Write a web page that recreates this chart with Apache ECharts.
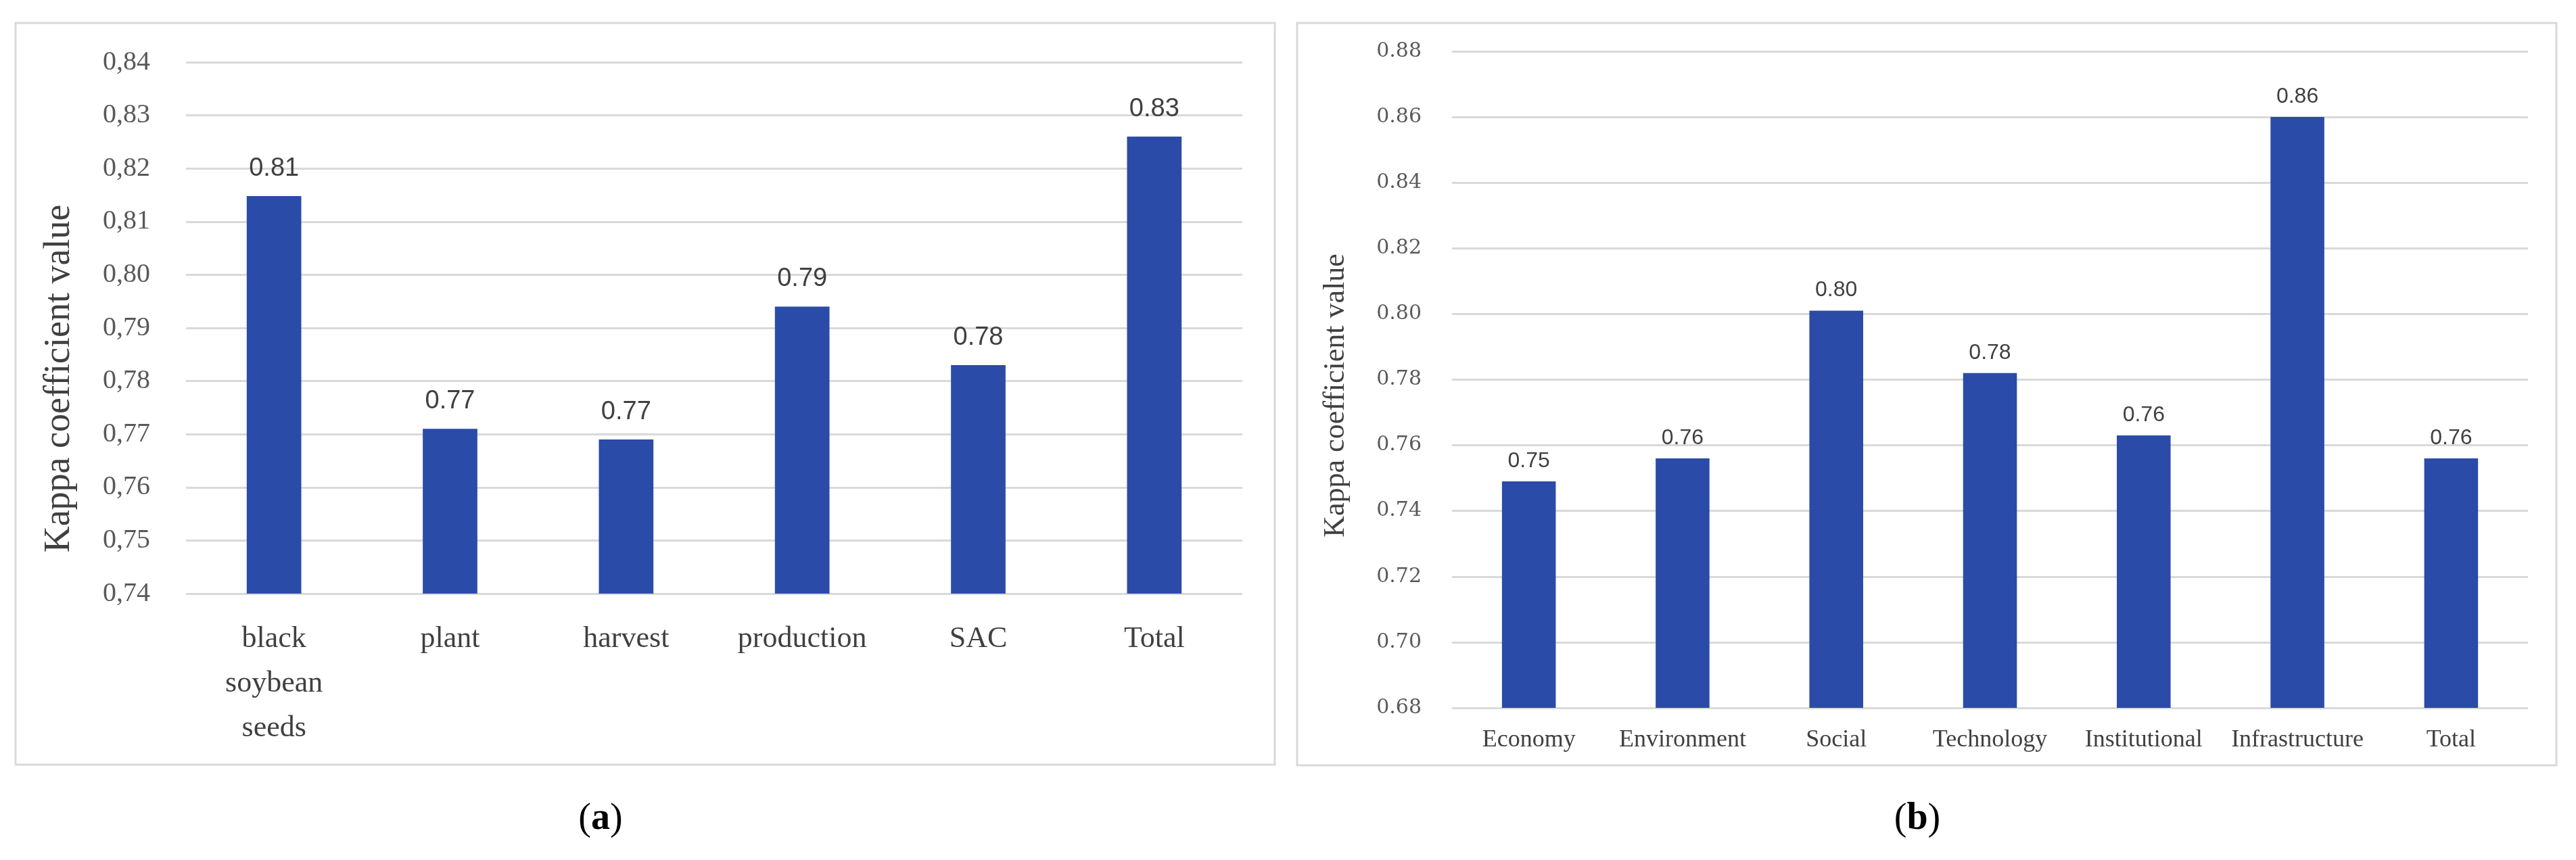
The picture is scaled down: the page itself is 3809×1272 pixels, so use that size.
<!DOCTYPE html>
<html>
<head>
<meta charset="utf-8">
<script src="https://cdn.jsdelivr.net/npm/echarts@6/dist/echarts.min.js"></script>
<style>
html,body{margin:0;padding:0;background:#fff;}
#c{width:3809px;height:1272px;}
</style>
</head>
<body>
<div id="c"></div>
<script>
// ---- data ----
const categoriesA = ['black\nsoybean\nseeds', 'plant', 'harvest', 'production', 'SAC', 'Total'];
const valuesA = [0.8148, 0.771, 0.769, 0.794, 0.783, 0.826];
const categoriesB = ['Economy', 'Environment', 'Social', 'Technology', 'Institutional', 'Infrastructure', 'Total'];
const valuesB = [0.749, 0.756, 0.801, 0.782, 0.763, 0.860, 0.756];
const axisA = {min: 0.74, max: 0.84, interval: 0.01};
const axisB = {min: 0.68, max: 0.88, interval: 0.02};
const yTitle = 'Kappa coefficient value';

const barColor = '#2b4ba8';
const gridColor = '#d9d9d9';
const textColor = '#404040';

const chart = echarts.init(document.getElementById('c'));
chart.setOption({
  backgroundColor: '#ffffff',
  animation: false,
  grid: [
    {left: 275, top: 92, width: 1562, height: 786},
    {left: 2147, top: 76, width: 1591, height: 971}
  ],
  xAxis: [
    {
      type: 'category', gridIndex: 0, data: categoriesA,
      axisLine: {show: false}, axisTick: {show: false},
      axisLabel: {color: textColor, fontFamily: 'Liberation Serif', fontSize: 44, lineHeight: 66, margin: 34, interval: 0}
    },
    {
      type: 'category', gridIndex: 1, data: categoriesB,
      axisLine: {show: false}, axisTick: {show: false},
      axisLabel: {color: textColor, fontFamily: 'Liberation Serif', fontSize: 36, margin: 30, interval: 0}
    }
  ],
  yAxis: [
    {
      type: 'value', gridIndex: 0, min: axisA.min, max: axisA.max, interval: axisA.interval,
      axisLine: {show: false}, axisTick: {show: false},
      splitLine: {lineStyle: {color: gridColor, width: 3}},
      axisLabel: {color: '#595959', fontFamily: 'Liberation Serif', fontSize: 40, margin: 53,
        formatter: v => v.toFixed(2).replace('.', ',')}
    },
    {
      type: 'value', gridIndex: 1, min: axisB.min, max: axisB.max, interval: axisB.interval,
      axisLine: {show: false}, axisTick: {show: false},
      splitLine: {lineStyle: {color: gridColor, width: 3}},
      axisLabel: {color: '#595959', fontFamily: 'DejaVu Serif', fontSize: 30, margin: 45,
        formatter: v => v.toFixed(2)}
    }
  ],
  series: [
    {
      type: 'bar', xAxisIndex: 0, yAxisIndex: 0, data: valuesA, barWidth: '31%',
      itemStyle: {color: barColor},
      label: {show: true, position: 'top', distance: 22, color: textColor,
        fontFamily: 'Liberation Sans', fontSize: 38, formatter: p => p.value.toFixed(2)}
    },
    {
      type: 'bar', xAxisIndex: 1, yAxisIndex: 1, data: valuesB, barWidth: '35%',
      itemStyle: {color: barColor},
      label: {show: true, position: 'top', distance: 14, color: textColor,
        fontFamily: 'Liberation Sans', fontSize: 32, formatter: p => p.value.toFixed(2)}
    }
  ],
  graphic: [
    {type: 'rect', shape: {x: 23, y: 34, width: 1862, height: 1097},
      style: {fill: 'none', stroke: '#d9d9d9', lineWidth: 3}, z: -1},
    {type: 'rect', shape: {x: 1918, y: 34, width: 1862, height: 1098},
      style: {fill: 'none', stroke: '#d9d9d9', lineWidth: 3}, z: -1},
    {type: 'text', x: 88, y: 560, rotation: Math.PI / 2,
      style: {text: yTitle, fontFamily: 'Liberation Serif', fontSize: 54, fill: textColor,
        textAlign: 'center', textVerticalAlign: 'middle'}},
    {type: 'text', x: 1975, y: 585, rotation: Math.PI / 2,
      style: {text: yTitle, fontFamily: 'Liberation Serif', fontSize: 44, fill: textColor,
        textAlign: 'center', textVerticalAlign: 'middle'}},
    {type: 'text', x: 888, y: 1212,
      style: {text: '{n|(}{b|a}{n|)}', textAlign: 'center', textVerticalAlign: 'middle',
        rich: {n: {fontFamily: 'Liberation Serif', fontSize: 56, fill: '#000'},
               b: {fontFamily: 'Liberation Serif', fontSize: 56, fontWeight: 'bold', fill: '#000'}}}},
    {type: 'text', x: 2835, y: 1212,
      style: {text: '{n|(}{b|b}{n|)}', textAlign: 'center', textVerticalAlign: 'middle',
        rich: {n: {fontFamily: 'Liberation Serif', fontSize: 56, fill: '#000'},
               b: {fontFamily: 'Liberation Serif', fontSize: 56, fontWeight: 'bold', fill: '#000'}}}}
  ]
});
</script>
</body>
</html>
